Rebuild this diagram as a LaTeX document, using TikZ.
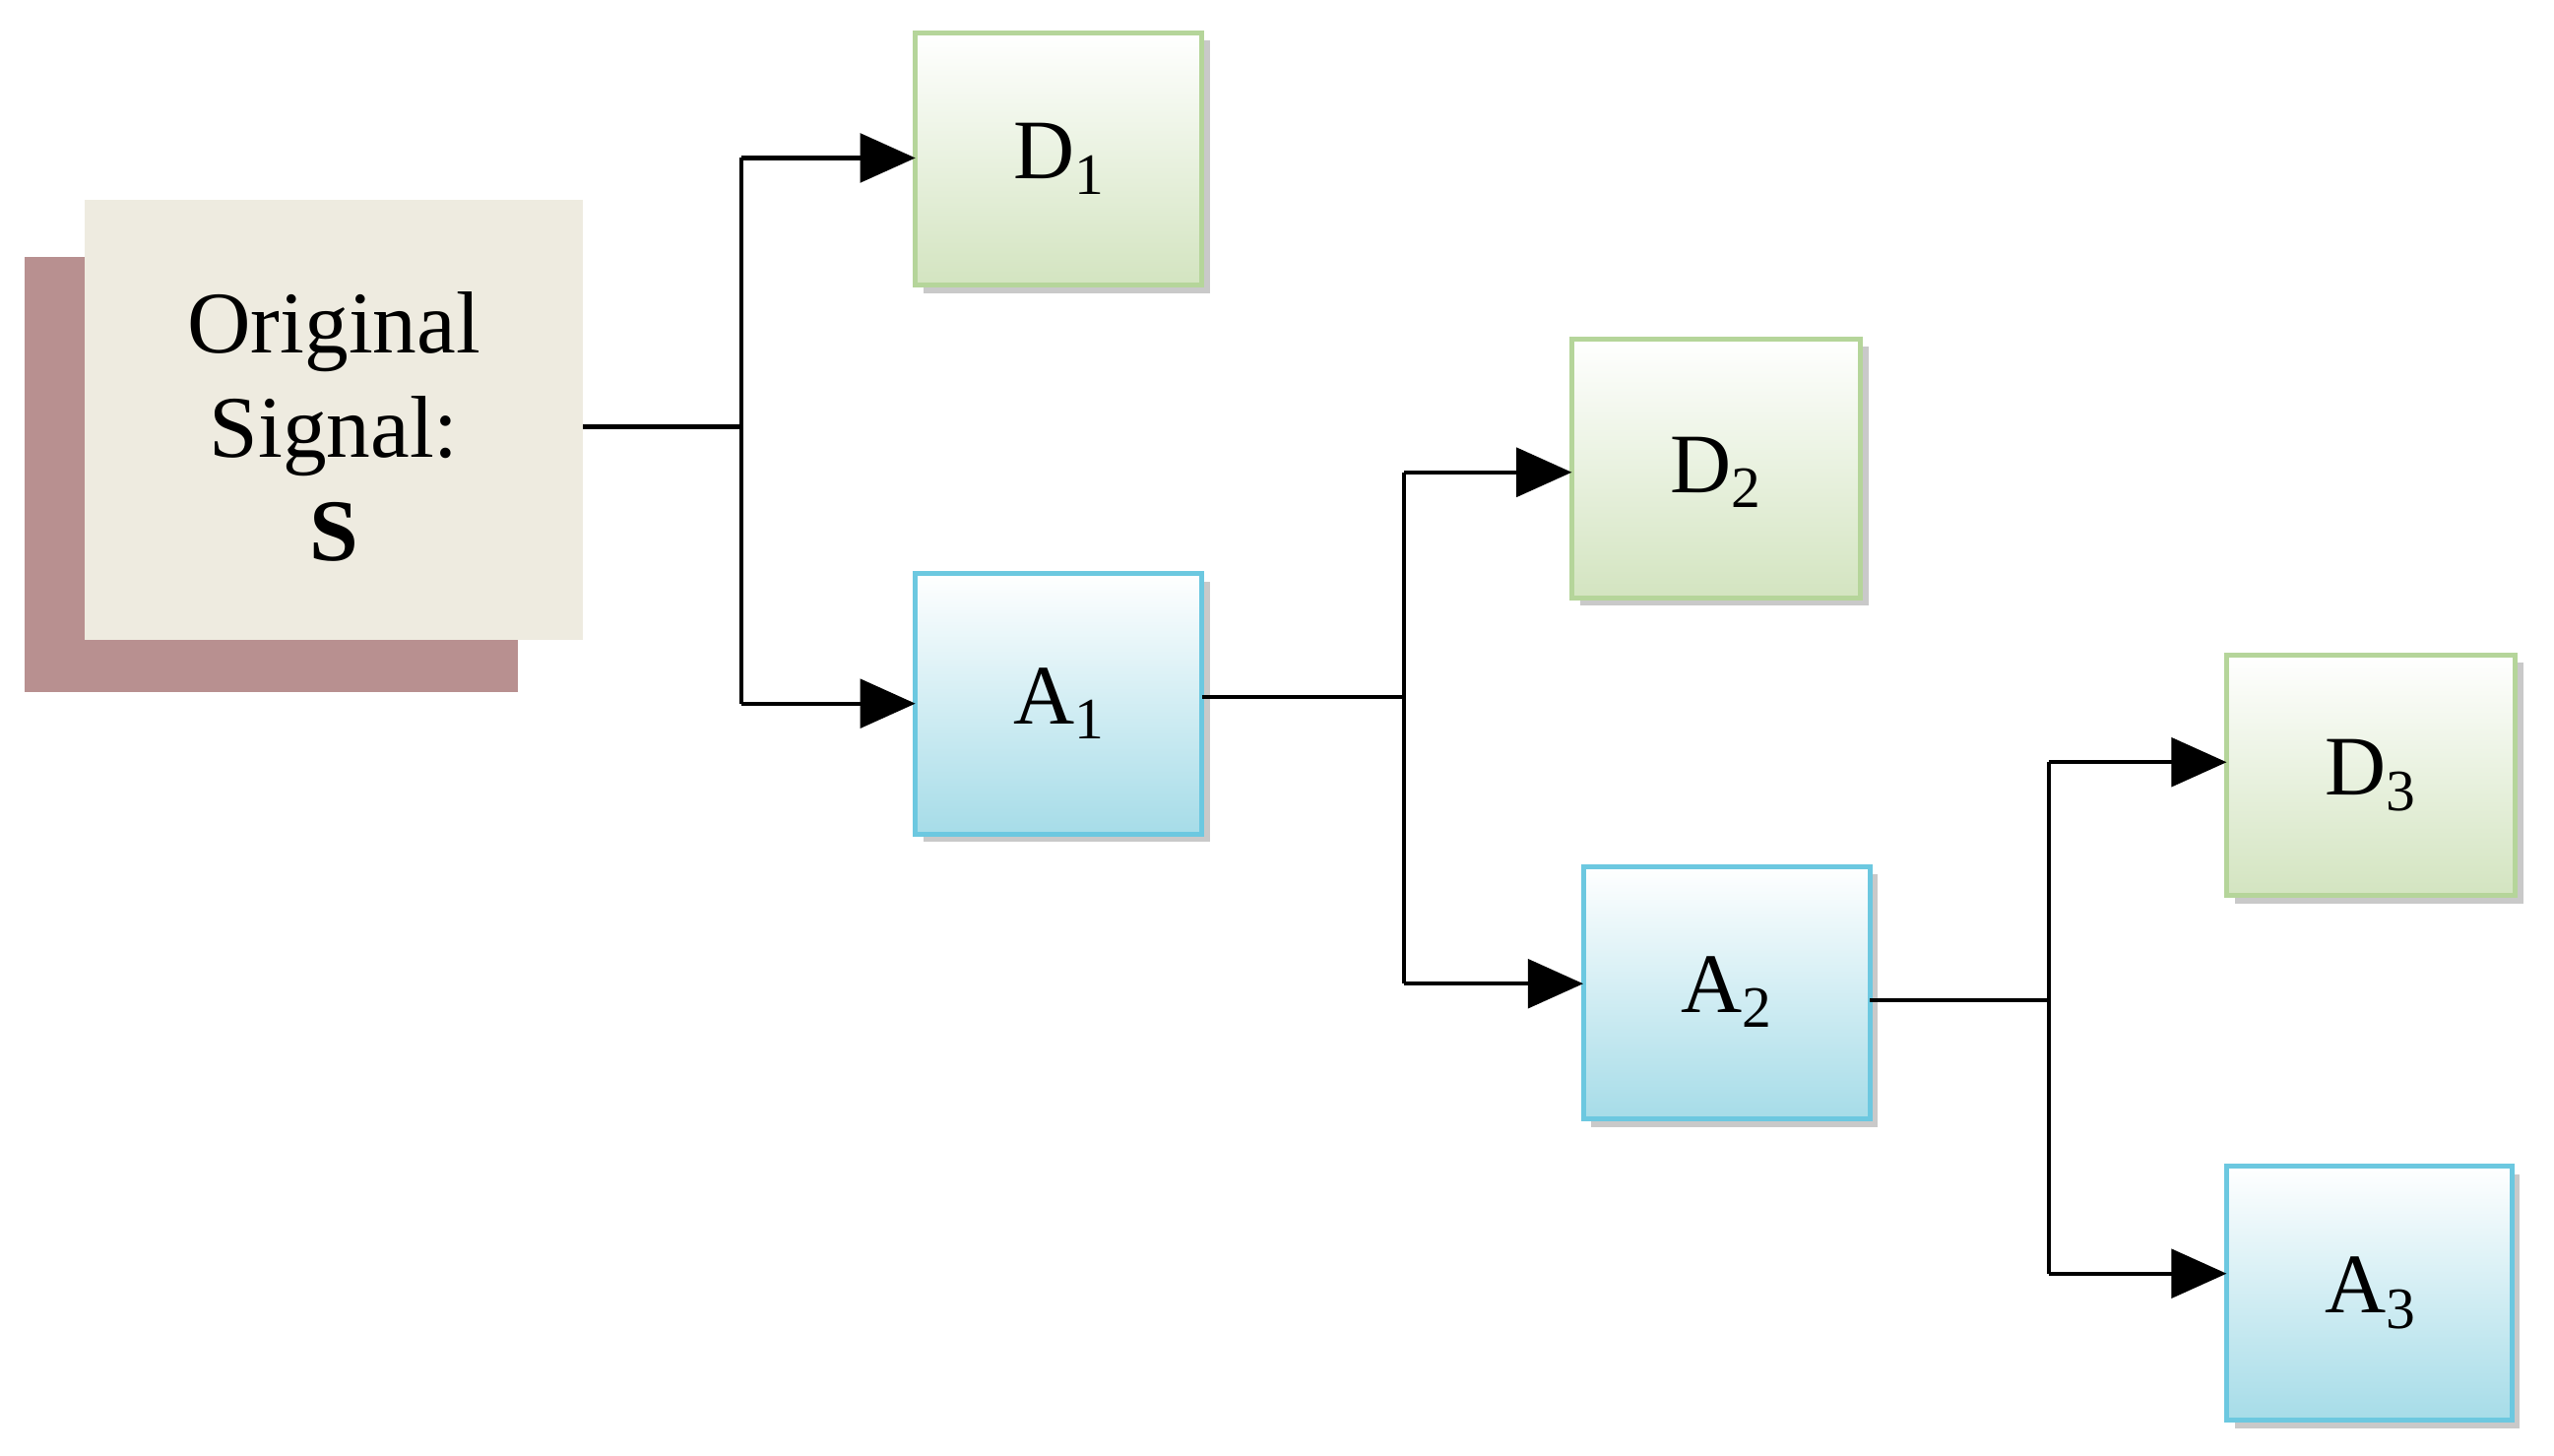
\documentclass[tikz,border=0pt]{standalone}
\usepackage{fontspec}
\setmainfont{Liberation Serif}
\usetikzlibrary{arrows.meta,shadows}
\definecolor{gborder}{HTML}{B5D59A}
\definecolor{gbot}{HTML}{D3E4C0}
\definecolor{bborder}{HTML}{6CC8E0}
\definecolor{bbot}{HTML}{A6DCE8}
\definecolor{sig}{HTML}{EEEBE0}
\definecolor{sigsh}{HTML}{B89090}
\newcommand{\lab}[2]{\fontsize{52}{60}\selectfont #1\raisebox{-0.18em}{\fontsize{36}{40}\selectfont #2}}
\tikzset{
  gbox/.style={draw=gborder,line width=3pt,top color=white,bottom color=gbot,
    drop shadow={shadow xshift=5pt,shadow yshift=-5pt,fill=black!35,opacity=0.6}},
  bbox/.style={draw=bborder,line width=3pt,top color=white,bottom color=bbot,
    drop shadow={shadow xshift=5pt,shadow yshift=-5pt,fill=black!35,opacity=0.6}},
  conn/.style={line width=2.5pt},
  arr/.style={line width=2.5pt,-{Triangle[length=34pt,width=30pt]}}
}
\begin{document}
\begin{tikzpicture}[x=1pt,y=-1pt]
\useasboundingbox[fill=white] (0,0) rectangle (1568,894);
\fill[sigsh] (15,158) rectangle (318,425);
\fill[sig] (52,123) rectangle (358,393);
\node[align=center,font=\fontsize{54}{64}\selectfont] (S) at (205,262) {Original\\Signal:\\\textbf{S}};
\coordinate (Sr) at (358,262);
\path[gbox] (562,20) rectangle (738,175);
\node (D1) at (650,97.5) {\lab{D}{1}};
\path[bbox] (562,352) rectangle (738,512);
\node (A1) at (650,432) {\lab{A}{1}};
\path[gbox] (965,208) rectangle (1142,367);
\node (D2) at (1053,290) {\lab{D}{2}};
\path[bbox] (972,532) rectangle (1148,687);
\node (A2) at (1060,609) {\lab{A}{2}};
\path[gbox] (1367,402) rectangle (1544,550);
\node (D3) at (1455,476) {\lab{D}{3}};
\path[bbox] (1367,716) rectangle (1542,872);
\node (A3) at (1455,794) {\lab{A}{3}};
\coordinate (D1l) at (562,97); \coordinate (A1l) at (562,432);
\coordinate (D2l) at (965,290); \coordinate (A2l) at (972,604);
\coordinate (D3l) at (1367,468); \coordinate (A3l) at (1367,782);
\coordinate (A1r) at (738,428); \coordinate (A2r) at (1148,614);
\draw[conn] (Sr) -- (455,262);
\draw[conn] (455,97) -- (455,432);
\draw[arr] (455,97) -- (D1l);
\draw[arr] (455,432) -- (A1l);
\draw[conn] (A1r) -- (862,428);
\draw[conn] (862,290) -- (862,604);
\draw[arr] (862,290) -- (D2l);
\draw[arr] (862,604) -- (A2l);
\draw[conn] (A2r) -- (1258,614);
\draw[conn] (1258,468) -- (1258,782);
\draw[arr] (1258,468) -- (D3l);
\draw[arr] (1258,782) -- (A3l);
\end{tikzpicture}
\end{document}
